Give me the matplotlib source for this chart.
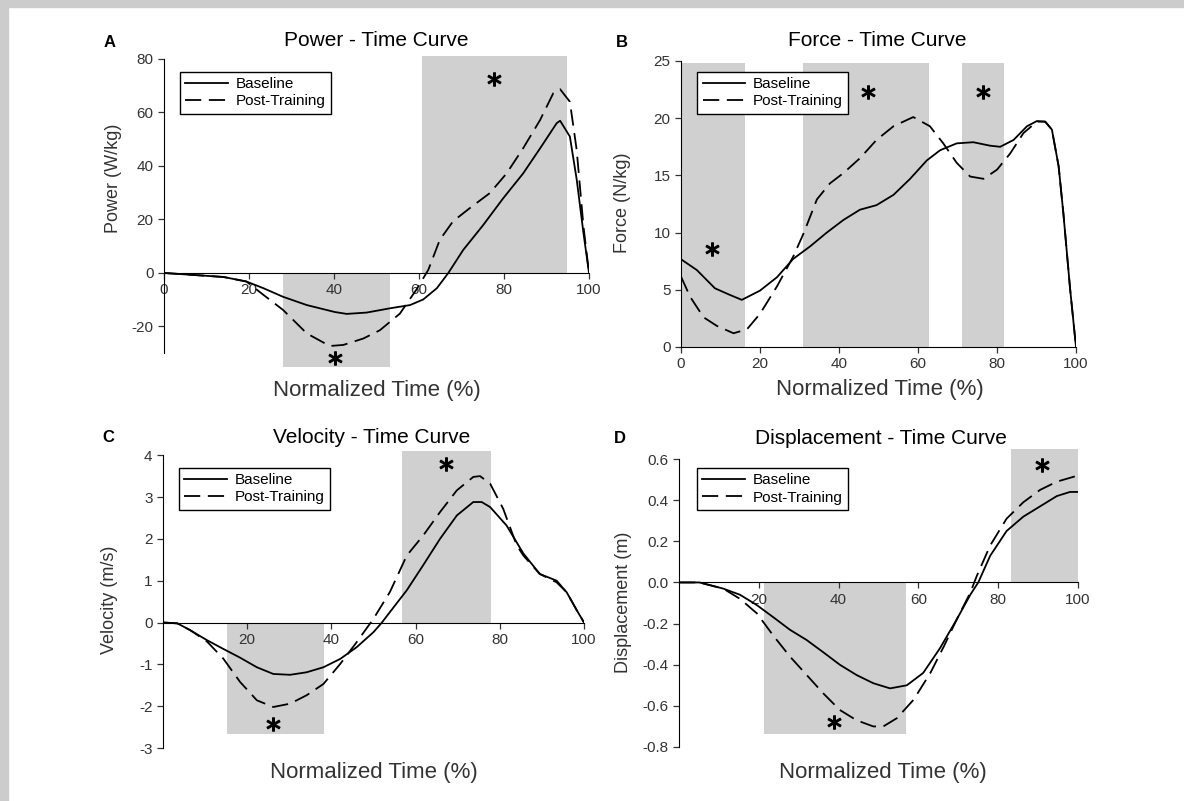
import matplotlib
matplotlib.use("Agg")
import matplotlib.pyplot as plt
from matplotlib.patches import Rectangle

plt.rcParams['font.family'] = ['Liberation Sans', 'DejaVu Sans']
plt.rcParams['axes.unicode_minus'] = False

# ---- Power - time (A)
pow_t_base = [0, 14, 19.4, 23.4, 28, 33.6, 40.2, 43, 47.7, 53.2, 57.9, 61, 64.2, 66.9, 70.4,
              75.1, 79.8, 84.5, 88.5, 92.4, 93.2, 95.5, 97.1, 98.7, 100]
pow_base = [0, -1.5, -3.2, -5.7, -8.9, -12, -14.6, -15.3, -14.8, -13.2, -12, -9.9, -5.7, 0, 8.6,
            17.9, 27.9, 37.2, 46.6, 56, 56.9, 51, 35, 14.9, 0]
pow_t_post = [0, 14, 19.4, 23.4, 28, 33.6, 39, 42.2, 46.9, 50.8, 55.5, 59.4, 62.2, 64.9, 68,
              72, 76.7, 80.6, 84.5, 88.5, 91.6, 93.2, 95.5, 97.1, 98.7, 100]
pow_post = [0, -1.5, -3.2, -8.2, -13.8, -22.6, -27.3, -26.9, -24.5, -21.4, -15.2, -6.2, 1.2, 12.4, 19.3,
            24.3, 29.9, 37.2, 46.6, 57.2, 67.2, 68.7, 64, 46, 17.4, 0]
pow_shade = [(28, 53.2, -35, 0), (60.7, 94.8, 0, 81)]
pow_star = [(77.6, 72.5), (40.2, -31.8)]

# ---- Force - time (B)
frc_t_base = [0, 4, 8.6, 12.4, 15.4, 20, 24.3, 28.4, 32.7, 36.9, 41.1, 45.3, 49.5, 53.8, 58,
              62.2, 65.6, 69.8, 74, 78.2, 80.8, 84.2, 87.6, 90.1, 92.2, 93.9, 95.6, 96.8, 98.5, 100]
frc_base = [7.67, 6.73, 5.13, 4.55, 4.12, 4.93, 6.1, 7.7, 8.8, 10, 11.1, 12, 12.4, 13.3, 14.7,
            16.3, 17.2, 17.8, 17.9, 17.6, 17.5, 18.1, 19.3, 19.75, 19.7, 19, 15.8, 11.7, 5.1, 0]
frc_t_post = [0, 2.3, 5.7, 9.1, 13.3, 16.7, 20, 24.3, 28.4, 31, 34.4, 37.7, 41.1, 45.3, 49.5,
              53.8, 58.8, 63, 66.4, 69.8, 73.2, 76.6, 80, 83.3, 86.7, 90.1, 92.2, 93.9, 95.6, 96.8, 98.5, 100]
frc_post = [6.15, 4.4, 2.6, 1.84, 1.2, 1.55, 2.9, 5.3, 7.9, 9.9, 12.9, 14.3, 15.2, 16.5, 18.1,
            19.3, 20.1, 19.3, 17.8, 16.1, 14.9, 14.7, 15.5, 16.9, 18.7, 19.7, 19.7, 19, 15.8, 11.7, 5.1, 0]
frc_shade = [(0, 16.2, 0, 24.8), (30.9, 62.8, 0, 24.8), (71.1, 81.8, 0, 24.8)]
frc_star = [(7.8, 8.6), (47.3, 22.3), (76.5, 22.3)]

# ---- Velocity - time (C)
vel_t_base = [0, 3.4, 6.4, 10.4, 14.3, 18.3, 22.3, 26.2, 30.2, 34.1, 38.1, 42.1, 46, 50, 52,
              53.9, 57.9, 61.8, 65.8, 69.8, 73.7, 75.7, 77.7, 81.6, 85.6, 89.5, 93.5, 95.9, 98.3, 100]
vel_base = [0, -0.02, -0.18, -0.42, -0.63, -0.84, -1.07, -1.23, -1.25, -1.19, -1.07, -0.87, -0.59, -0.23, 0,
            0.25, 0.77, 1.37, 2.0, 2.56, 2.88, 2.88, 2.76, 2.32, 1.65, 1.16, 1.0, 0.72, 0.29, 0]
vel_t_post = [0, 3.4, 6.4, 10.4, 14.3, 18.3, 22.3, 26.2, 30.2, 34.1, 38.1, 42.1, 46, 50, 53.9,
              57.9, 61.8, 65.8, 69.8, 73.7, 75.3, 77.7, 80.8, 84, 85.6, 89.5, 93.5, 95.9, 98.3, 100]
vel_post = [0, -0.02, -0.18, -0.45, -0.86, -1.42, -1.86, -2.02, -1.94, -1.74, -1.47, -0.99, -0.47, 0.09, 0.73,
            1.6, 2.08, 2.64, 3.16, 3.48, 3.5, 3.32, 2.72, 1.85, 1.6, 1.16, 0.96, 0.72, 0.29, 0]
vel_shade = [(15.2, 38.2, -2.66, 0), (56.8, 77.9, 0, 4.1)]
vel_star = [(67.2, 3.78), (26.1, -2.42)]

# ---- Displacement - time (D)
dsp_t_base = [0, 5.1, 11.1, 15.3, 19.5, 23.7, 27.8, 32, 36.2, 40.3, 44.5, 48.7, 52.9, 57.1, 61.2,
              65.4, 69.6, 73, 75, 78, 82.1, 86.3, 90.5, 94.7, 98, 100]
dsp_base = [0, 0, -0.03, -0.06, -0.11, -0.17, -0.23, -0.28, -0.34, -0.40, -0.45, -0.49, -0.515, -0.50, -0.44,
            -0.32, -0.18, -0.06, 0, 0.13, 0.25, 0.32, 0.37, 0.42, 0.44, 0.44]
dsp_t_post = [0, 5.1, 11.1, 15.3, 19.5, 23.7, 27.8, 32, 36.2, 40.3, 44.5, 48.7, 51.2, 54.6, 58.8,
              63, 66.4, 69.6, 73, 74.6, 78, 82.1, 86.3, 90.5, 94.7, 100]
dsp_post = [0, 0, -0.03, -0.08, -0.15, -0.26, -0.36, -0.45, -0.54, -0.62, -0.67, -0.70, -0.70, -0.66, -0.57,
            -0.44, -0.31, -0.18, -0.05, 0.03, 0.18, 0.31, 0.39, 0.45, 0.49, 0.52]
dsp_shade = [(21.3, 56.9, -0.735, 0), (83.2, 100, 0, 0.65)]
dsp_star = [(38.8, -0.68), (91, 0.57)]

panels = [
    dict(letter='A', title='Power - Time Curve', ylabel='Power (W/kg)',
         tb=pow_t_base, yb=pow_base, tp=pow_t_post, yp=pow_post, shade=pow_shade, star=pow_star,
         rect=[164/1184, 1-366.6/801, 425/1184, 313/801], ylim=(-35, 82), ybounds=(-30, 80),
         yticks=[-20, 0, 20, 40, 60, 80], xticks=[0, 20, 40, 60, 80, 100], fmt='%d',
         title_pos=(0.5, 1.043), xl_pos=(0.5, -0.075), yl_pos=(-0.118, 0.60), let_pos=(-0.129, 1.037),
         leg=(0.038, 0.941)),
    dict(letter='B', title='Force - Time Curve', ylabel='Force (N/kg)',
         tb=frc_t_base, yb=frc_base, tp=frc_t_post, yp=frc_post, shade=frc_shade, star=frc_star,
         rect=[681/1184, 1-347/801, 395/1184, 286/801], ylim=(0, 25), ybounds=(0, 25),
         yticks=[0, 5, 10, 15, 20, 25], xticks=[0, 20, 40, 60, 80, 100], fmt='%d',
         title_pos=(0.496, 1.072), xl_pos=(0.504, -0.150), yl_pos=(-0.147, 0.503), let_pos=(-0.149, 1.066),
         leg=(0.041, 0.962)),
    dict(letter='C', title='Velocity - Time Curve', ylabel='Velocity (m/s)',
         tb=vel_t_base, yb=vel_base, tp=vel_t_post, yp=vel_post, shade=vel_shade, star=vel_star,
         rect=[163/1184, 1-748/801, 421/1184, 297/801], ylim=(-3, 4.1), ybounds=(-3, 4),
         yticks=[-3, -2, -1, 0, 1, 2, 3, 4], xticks=[20, 40, 60, 80, 100], fmt='%d',
         title_pos=(0.496, 1.044), xl_pos=(0.5, -0.081), yl_pos=(-0.126, 0.498), let_pos=(-0.131, 1.044),
         leg=(0.038, 0.943)),
    dict(letter='D', title='Displacement - Time Curve', ylabel='Displacement (m)',
         tb=dsp_t_base, yb=dsp_base, tp=dsp_t_post, yp=dsp_post, shade=dsp_shade, star=dsp_star,
         rect=[679/1184, 1-747/801, 399/1184, 298.25/801], ylim=(-0.8, 0.65), ybounds=(-0.8, 0.6),
         yticks=[-0.8, -0.6, -0.4, -0.2, 0.0, 0.2, 0.4, 0.6], xticks=[20, 40, 60, 80, 100], fmt='%.1f',
         title_pos=(0.506, 1.036), xl_pos=(0.511, -0.084), yl_pos=(-0.140, 0.486), let_pos=(-0.148, 1.036),
         leg=(0.045, 0.935)),
]

fig = plt.figure(figsize=(11.84, 8.01), dpi=100)
fig.patches.append(Rectangle((0, 1-7/801), 1, 7/801, transform=fig.transFigure, color='#cccccc', zorder=0))
fig.patches.append(Rectangle((0, 0), 8/1184, 1, transform=fig.transFigure, color='#cccccc', zorder=0))

for p in panels:
    ax = fig.add_axes(p['rect'])
    for (x0, x1, y0, y1) in p['shade']:
        ax.add_patch(Rectangle((x0, y0), x1-x0, y1-y0, facecolor='#d0d0d0', edgecolor='none', zorder=0))
    ax.plot(p['tb'], p['yb'], color='black', lw=1.3, label='Baseline', zorder=3)
    ax.plot(p['tp'], p['yp'], color='black', lw=1.3, dashes=(9, 4.2), label='Post-Training', zorder=3)
    for (sx, sy) in p['star']:
        ax.plot(sx, sy, marker='$*$', markersize=9.5, color='black', linestyle='none')
    ax.set_xlim(0, 100)
    ax.set_ylim(*p['ylim'])
    ax.spines['top'].set_visible(False)
    ax.spines['right'].set_visible(False)
    ax.spines['bottom'].set_position(('data', 0))
    ax.spines['left'].set_bounds(*p['ybounds'])
    ax.spines['bottom'].set_bounds(0, 100)
    ax.set_xticks(p['xticks'])
    ax.set_yticks(p['yticks'])
    ax.set_yticklabels([p['fmt'] % v for v in p['yticks']])
    ax.tick_params(labelsize=11, length=4, width=0.9, color='#333333', labelcolor='#333333')
    ax.set_facecolor('none')

    ax.text(*p['title_pos'], p['title'], transform=ax.transAxes, ha='center', va='center', fontsize=15)
    ax.text(*p['let_pos'], p['letter'], transform=ax.transAxes, ha='center', va='center',
            fontsize=12, fontweight='bold')
    ax.text(*p['xl_pos'], 'Normalized Time (%)', transform=ax.transAxes, ha='center', va='center',
            fontsize=16, color='#333333')
    ax.text(*p['yl_pos'], p['ylabel'], transform=ax.transAxes, ha='center', va='center',
            fontsize=13, rotation=90, color='#333333')

    leg = ax.legend(loc='upper left', bbox_to_anchor=p['leg'], borderaxespad=0, fontsize=11,
                    handlelength=2.8, handletextpad=0.5, labelspacing=0.2, borderpad=0.35,
                    fancybox=False, framealpha=1, edgecolor='black')
    leg.get_frame().set_linewidth(1.0)

fig.savefig('out.png', dpi=100)
